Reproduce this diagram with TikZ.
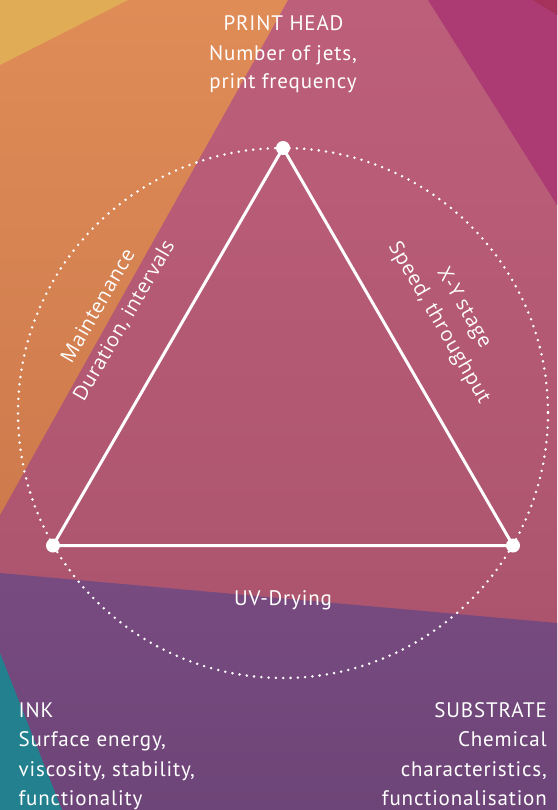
\documentclass[tikz,border=0pt]{standalone}
\usepackage{fontspec}
\setmainfont{PT Sans}[LetterSpace=4]
\newfontfamily\rotfont{Open Sans}[LetterSpace=3]
\definecolor{yellowc}{HTML}{E1AC56}
\definecolor{orangeTop}{HTML}{DF8C57}
\definecolor{orangeBot}{HTML}{CE7A4D}
\definecolor{pinkTop}{HTML}{BD5F7B}
\definecolor{pinkBot}{HTML}{A7516A}
\definecolor{magentac}{HTML}{AB3B72}
\definecolor{darkredc}{HTML}{A5325A}
\definecolor{purpleTop}{HTML}{784B80}
\definecolor{purpleBot}{HTML}{6E4578}
\definecolor{tealc}{HTML}{22808F}
\tikzset{
  lbl/.style={text=white, inner sep=0pt, anchor=base, font=\fontsize{21}{29}\selectfont},
  lbll/.style={lbl, anchor=base west},
  lblr/.style={lbl, anchor=base east},
  rot/.style={text=white, inner sep=0pt, anchor=base, font=\rotfont\fontsize{20}{26}\selectfont},
  edge/.style={draw=white, line width=3pt},
  vdot/.style={circle, fill=white, minimum size=14pt, inner sep=0pt},
}
\begin{document}
\begin{tikzpicture}[x=1pt,y=-1pt]
\useasboundingbox (0,0) rectangle (557,810);
% background
\shade[top color=pinkTop, bottom color=pinkBot] (0,0) rectangle (557,810);
\shade[top color=orangeTop, bottom color=orangeBot] (0,0) -- (288,0) -- (0,515) -- cycle;
\fill[yellowc] (0,0) -- (128,0) -- (0,65) -- cycle;
\fill[magentac] (428,0) -- (557,0) -- (557,205) -- cycle;
\fill[darkredc] (533,0) -- (557,0) -- (557,15) -- cycle;
\shade[top color=purpleTop, bottom color=purpleBot] (0,573) -- (557,623) -- (557,810) -- (0,810) -- cycle;
\fill[tealc] (0,653) -- (62,810) -- (0,810) -- cycle;
% circle
\coordinate (C) at (283,413);
\draw[white, line width=2.8pt, dash pattern=on 0pt off 7.3pt, line cap=round] (C) circle (265);
% triangle
\node[vdot] (T) at (283,148) {};
\node[vdot] (L) at (53,545.5) {};
\node[vdot] (R) at (513,545.5) {};
\draw[edge] (T.center) -- (L.center) -- (R.center) -- cycle;
% top text
\node[lbl] (ph1) at (283.5,31) {PRINT HEAD};
\node[lbl] (ph2) at (283,60.5) {Number of jets,};
\node[lbl] (ph3) at (283,89) {print frequency};
% bottom left
\node[lbll] (ink1) at (18.5,717.5) {INK};
\node[lbll] (ink2) at (18.5,746.5) {Surface energy,};
\node[lbll] (ink3) at (18.5,776) {viscosity, stability,};
\node[lbll] (ink4) at (18.5,805) {functionality};
% bottom right
\node[lblr] (sub1) at (547,717.5) {SUBSTRATE};
\node[lblr] (sub2) at (547,746.5) {Chemical};
\node[lblr] (sub3) at (547,776) {characteristics,};
\node[lblr] (sub4) at (547,805) {functionalisation};
% UV drying
\node[lbl] (uv) at (283,605) {UV-Drying};
% rotated
\node[rot, rotate=59.9] (mt1) at (103.6,309.2) {Maintenance};
\node[rot, rotate=59.9] (mt2) at (129.5,324.2) {Duration, intervals};
\node[rot, rotate=-59.9] (xy1) at (459.4,310.9) {X-Y stage};
\node[rot, rotate=-59.9] (xy2) at (434.3,325.5) {Speed, throughput};
\end{tikzpicture}
\end{document}
